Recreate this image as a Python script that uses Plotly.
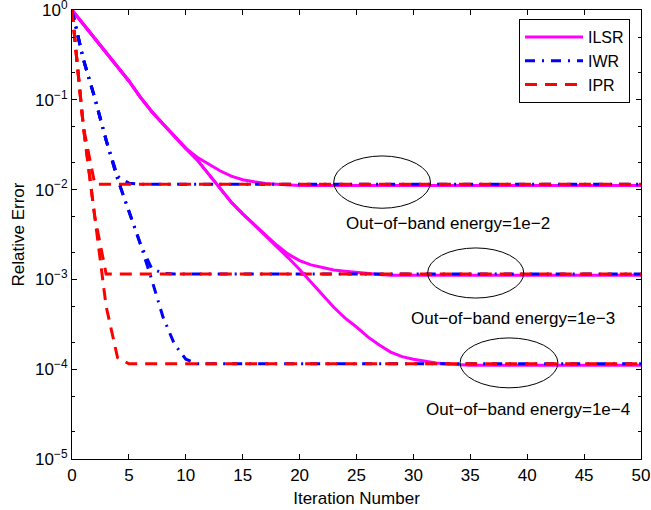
import plotly.graph_objects as go

# ---------------- data ----------------
iterations = list(range(51))

ilsr_e2 = [1.0, 0.692, 0.479, 0.331, 0.234, 0.162, 0.107, 0.0741, 0.0537, 0.0389,
           0.0288, 0.0229, 0.0191, 0.0162, 0.0141, 0.0129, 0.0122, 0.0117, 0.0115, 0.01127,
           0.0111, 0.0111, 0.0111, 0.0111, 0.0111, 0.0111, 0.0111, 0.0111, 0.0111, 0.0111,
           0.0111, 0.0111, 0.0111, 0.0111, 0.0111, 0.0111, 0.0111, 0.0111, 0.0111, 0.0111,
           0.0111, 0.0111, 0.0111, 0.0111, 0.0111, 0.0111, 0.0111, 0.0111, 0.0111, 0.0111,
           0.0111]
ilsr_e3 = [1.0, 0.692, 0.479, 0.331, 0.234, 0.162, 0.107, 0.0741, 0.0537, 0.0389,
           0.0288, 0.0214, 0.0148, 0.0102, 7.24e-3, 5.37e-3, 4.07e-3, 3.09e-3, 2.40e-3, 1.91e-3,
           1.62e-3, 1.45e-3, 1.35e-3, 1.27e-3, 1.23e-3, 1.19e-3, 1.16e-3, 1.135e-3, 1.11e-3, 1.11e-3,
           1.11e-3, 1.11e-3, 1.11e-3, 1.11e-3, 1.11e-3, 1.11e-3, 1.11e-3, 1.11e-3, 1.11e-3, 1.11e-3,
           1.11e-3, 1.11e-3, 1.11e-3, 1.11e-3, 1.11e-3, 1.11e-3, 1.11e-3, 1.11e-3, 1.11e-3, 1.11e-3,
           1.11e-3]
ilsr_e4 = [1.0, 0.692, 0.479, 0.331, 0.234, 0.162, 0.107, 0.0741, 0.0537, 0.0389,
           0.0288, 0.0214, 0.0148, 0.0102, 7.24e-3, 5.37e-3, 4.07e-3, 3.09e-3, 2.34e-3, 1.74e-3,
           1.29e-3, 9.3e-4, 6.8e-4, 4.9e-4, 3.7e-4, 2.95e-4, 2.29e-4, 1.86e-4, 1.55e-4, 1.38e-4,
           1.29e-4, 1.22e-4, 1.17e-4, 1.14e-4, 1.12e-4, 1.11e-4, 1.11e-4, 1.11e-4, 1.11e-4, 1.11e-4,
           1.11e-4, 1.11e-4, 1.11e-4, 1.11e-4, 1.11e-4, 1.11e-4, 1.11e-4, 1.11e-4, 1.11e-4, 1.11e-4,
           1.11e-4]

iwr_e2 = [1.0, 0.282, 0.105, 0.0355, 0.0141, 0.0118, 0.0115, 0.0115, 0.0115, 0.0115,
          0.0115, 0.0115, 0.0115, 0.0115, 0.0115, 0.0115, 0.0115, 0.0115, 0.0115, 0.0115,
          0.0115, 0.0115, 0.0115, 0.0115, 0.0115, 0.0115, 0.0115, 0.0115, 0.0115, 0.0115,
          0.0115, 0.0115, 0.0115, 0.0115, 0.0115, 0.0115, 0.0115, 0.0115, 0.0115, 0.0115,
          0.0115, 0.0115, 0.0115, 0.0115, 0.0115, 0.0115, 0.0115, 0.0115, 0.0115, 0.0115,
          0.0115]
iwr_e3 = [1.0, 0.282, 0.105, 0.0355, 0.0132, 5.9e-3, 2.5e-3, 1.32e-3, 1.17e-3, 1.15e-3,
          1.15e-3, 1.15e-3, 1.15e-3, 1.15e-3, 1.15e-3, 1.15e-3, 1.15e-3, 1.15e-3, 1.15e-3, 1.15e-3,
          1.15e-3, 1.15e-3, 1.15e-3, 1.15e-3, 1.15e-3, 1.15e-3, 1.15e-3, 1.15e-3, 1.15e-3, 1.15e-3,
          1.15e-3, 1.15e-3, 1.15e-3, 1.15e-3, 1.15e-3, 1.15e-3, 1.15e-3, 1.15e-3, 1.15e-3, 1.15e-3,
          1.15e-3, 1.15e-3, 1.15e-3, 1.15e-3, 1.15e-3, 1.15e-3, 1.15e-3, 1.15e-3, 1.15e-3, 1.15e-3,
          1.15e-3]
iwr_e4 = [1.0, 0.282, 0.105, 0.0355, 0.0132, 5.9e-3, 2.5e-3, 1.0e-3, 3.8e-4, 1.9e-4,
          1.29e-4, 1.15e-4, 1.15e-4, 1.15e-4, 1.15e-4, 1.15e-4, 1.15e-4, 1.15e-4, 1.15e-4, 1.15e-4,
          1.15e-4, 1.15e-4, 1.15e-4, 1.15e-4, 1.15e-4, 1.15e-4, 1.15e-4, 1.15e-4, 1.15e-4, 1.15e-4,
          1.15e-4, 1.15e-4, 1.15e-4, 1.15e-4, 1.15e-4, 1.15e-4, 1.15e-4, 1.15e-4, 1.15e-4, 1.15e-4,
          1.15e-4, 1.15e-4, 1.15e-4, 1.15e-4, 1.15e-4, 1.15e-4, 1.15e-4, 1.15e-4, 1.15e-4, 1.15e-4,
          1.15e-4]

ipr_e2 = [1.0, 0.05, 0.0115, 0.0115, 0.0115, 0.0115, 0.0115, 0.0115, 0.0115, 0.0115,
          0.0115, 0.0115, 0.0115, 0.0115, 0.0115, 0.0115, 0.0115, 0.0115, 0.0115, 0.0115,
          0.0115, 0.0115, 0.0115, 0.0115, 0.0115, 0.0115, 0.0115, 0.0115, 0.0115, 0.0115,
          0.0115, 0.0115, 0.0115, 0.0115, 0.0115, 0.0115, 0.0115, 0.0115, 0.0115, 0.0115,
          0.0115, 0.0115, 0.0115, 0.0115, 0.0115, 0.0115, 0.0115, 0.0115, 0.0115, 0.0115,
          0.0115]
ipr_e3 = [1.0, 0.05, 5e-3, 1.15e-3, 1.15e-3, 1.15e-3, 1.15e-3, 1.15e-3, 1.15e-3, 1.15e-3,
          1.15e-3, 1.15e-3, 1.15e-3, 1.15e-3, 1.15e-3, 1.15e-3, 1.15e-3, 1.15e-3, 1.15e-3, 1.15e-3,
          1.15e-3, 1.15e-3, 1.15e-3, 1.15e-3, 1.15e-3, 1.15e-3, 1.15e-3, 1.15e-3, 1.15e-3, 1.15e-3,
          1.15e-3, 1.15e-3, 1.15e-3, 1.15e-3, 1.15e-3, 1.15e-3, 1.15e-3, 1.15e-3, 1.15e-3, 1.15e-3,
          1.15e-3, 1.15e-3, 1.15e-3, 1.15e-3, 1.15e-3, 1.15e-3, 1.15e-3, 1.15e-3, 1.15e-3, 1.15e-3,
          1.15e-3]
ipr_e4 = [1.0, 0.05, 5e-3, 5e-4, 1.35e-4, 1.15e-4, 1.15e-4, 1.15e-4, 1.15e-4, 1.15e-4,
          1.15e-4, 1.15e-4, 1.15e-4, 1.15e-4, 1.15e-4, 1.15e-4, 1.15e-4, 1.15e-4, 1.15e-4, 1.15e-4,
          1.15e-4, 1.15e-4, 1.15e-4, 1.15e-4, 1.15e-4, 1.15e-4, 1.15e-4, 1.15e-4, 1.15e-4, 1.15e-4,
          1.15e-4, 1.15e-4, 1.15e-4, 1.15e-4, 1.15e-4, 1.15e-4, 1.15e-4, 1.15e-4, 1.15e-4, 1.15e-4,
          1.15e-4, 1.15e-4, 1.15e-4, 1.15e-4, 1.15e-4, 1.15e-4, 1.15e-4, 1.15e-4, 1.15e-4, 1.15e-4,
          1.15e-4]

x_tickvals = [0, 5, 10, 15, 20, 25, 30, 35, 40, 45, 50]
y_tickvals = [1e-5, 1e-4, 1e-3, 1e-2, 1e-1, 1]
y_ticktext = ["10<sup>\u22125</sup>", "10<sup>\u22124</sup>", "10<sup>\u22123</sup>",
              "10<sup>\u22122</sup>", "10<sup>\u22121</sup>", "10<sup>0</sup>"]

energy_labels = ["Out\u2212of\u2212band energy=1e\u22122",
                 "Out\u2212of\u2212band energy=1e\u22123",
                 "Out\u2212of\u2212band energy=1e\u22124"]

# ---------------- styling ----------------
FONT = "Liberation Sans, Arial, Helvetica, sans-serif"
styles = {
    "ILSR": dict(color="#FF00FF", width=3, dash="solid"),
    "IWR": dict(color="#0000FF", width=3, dash="10px,7px,2px,7px"),
    "IPR": dict(color="#FF0000", width=3, dash="12px,8px"),
}

fig = go.Figure()
groups = [
    (ilsr_e2, iwr_e2, ipr_e2),
    (ilsr_e3, iwr_e3, ipr_e3),
    (ilsr_e4, iwr_e4, ipr_e4),
]
for gi, (a, b, c) in enumerate(groups):
    for name, ys in (("ILSR", a), ("IWR", b), ("IPR", c)):
        fig.add_trace(go.Scatter(
            x=iterations, y=ys, mode="lines", name=name,
            legendgroup=name, showlegend=(gi == 0),
            line=styles[name],
        ))

# ellipses (x in iteration units, y in data values)
ellipses = [
    (23.0, 31.5, 2.37e-2, 6.2e-3),
    (31.25, 39.7, 2.24e-3, 6.2e-4),
    (34.1, 42.7, 2.23e-4, 6.2e-5),
]
for x0, x1, y0, y1 in ellipses:
    fig.add_shape(type="circle", xref="x", yref="y", x0=x0, x1=x1, y0=y1, y1=y0,
                  line=dict(color="black", width=1))

# energy text labels: (x centre, log10 y)
label_pos = [(33.06, -2.372), (38.77, -3.43), (40.09, -4.454)]
for (lx, ly), txt in zip(label_pos, energy_labels):
    fig.add_annotation(x=lx, y=ly, xref="x", yref="y", text=txt, showarrow=False,
                       font=dict(family=FONT, size=17, color="black"))

axis_common = dict(
    showline=True, linecolor="black", linewidth=1.2, mirror="ticks",
    ticks="inside", ticklen=5, tickcolor="black", tickwidth=1,
    showgrid=False, zeroline=False, ticklabeloverflow="allow",
    tickfont=dict(family=FONT, size=17, color="black"),
)

fig.update_xaxes(
    range=[0, 50], tickmode="array", tickvals=x_tickvals,
    title=dict(text="Iteration Number", font=dict(family=FONT, size=17, color="black"), standoff=8),
    **axis_common,
)
fig.update_yaxes(
    type="log", range=[-5, 0], tickmode="array", tickvals=y_tickvals, ticktext=y_ticktext,
    minor=dict(ticks="inside", ticklen=3, tickcolor="black", tickwidth=1, showgrid=False),
    title=dict(text="Relative Error", font=dict(family=FONT, size=17, color="black"), standoff=6),
    **axis_common,
)

fig.update_layout(
    width=651, height=510,
    margin=dict(l=72, r=10, t=10, b=51, autoexpand=False),
    paper_bgcolor="white", plot_bgcolor="white",
    font=dict(family=FONT, size=17, color="black"),
    showlegend=True,
    legend=dict(
        x=0.7856, y=0.98, xanchor="left", yanchor="top",
        bordercolor="black", borderwidth=1, bgcolor="white",
        font=dict(family=FONT, size=16, color="black"),
        itemwidth=58, tracegroupgap=0,
    ),
)

fig.write_html("out.html", config={"displayModeBar": False},
               post_script="document.body.style.margin='0';document.body.style.padding='0';")
